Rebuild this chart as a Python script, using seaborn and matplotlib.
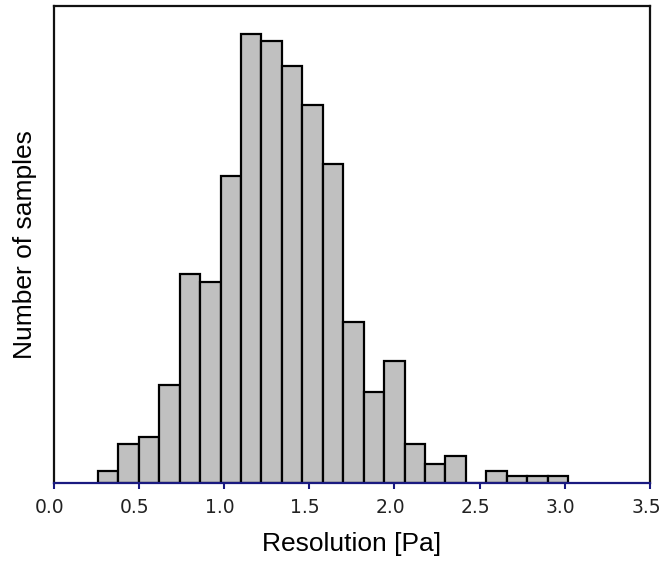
import numpy as np
import pandas as pd
import matplotlib
matplotlib.use("Agg")
import matplotlib.pyplot as plt
import matplotlib.transforms as mtransforms
import seaborn as sns

# ---- data ----
bin_centers = [0.32, 0.44, 0.56, 0.68, 0.80, 0.92, 1.04, 1.16, 1.28, 1.40,
               1.52, 1.64, 1.76, 1.88, 2.00, 2.12, 2.24, 2.36, 2.48, 2.60,
               2.72, 2.84, 2.96]
counts = [12, 38.7, 46, 97.7, 208.7, 201, 307, 449, 441.3, 416.7,
          377.7, 318.7, 161, 90.3, 122, 38.7, 18.7, 26.3, 0, 11.3,
          6.3, 6.3, 6.3]
bin_edges = [0.26, 0.38, 0.50, 0.62, 0.74, 0.86, 0.98, 1.10, 1.22, 1.34,
             1.46, 1.58, 1.70, 1.82, 1.94, 2.06, 2.18, 2.30, 2.42, 2.54,
             2.66, 2.78, 2.90, 3.02]
x_ticks = [0.0, 0.5, 1.0, 1.5, 2.0, 2.5, 3.0, 3.5]
x_tick_labels = ["0.0", "0.5", "1.0", "1.5", "2.0", "2.5", "3.0", "3.5"]

df = pd.DataFrame({"resolution": bin_centers, "count": counts})

sns.set_style("white")
plt.rcParams['font.family'] = ['Liberation Sans', 'DejaVu Sans']

fig = plt.figure(figsize=(6.63, 5.63), dpi=100)
ax = fig.add_axes([53.5 / 663, (563 - 482.5) / 563, (650 - 53.5) / 663, (482.5 - 6) / 563])

sns.histplot(data=df, x="resolution", weights="count", bins=bin_edges,
             color="#c0c0c0", edgecolor="black", linewidth=1.6, alpha=1.0, ax=ax)

ax.set_xlim(0, 3.5)
ax.set_ylim(0, 476.5)
ax.set_yticks([])
ax.set_xticks(x_ticks)
ax.set_xticklabels(x_tick_labels, family="DejaVu Sans", fontsize=13.5, color="#222222")
ax.tick_params(axis="x", direction="out", length=4, width=1.5, color="#1a1a80",
               pad=7, bottom=True)

# reference labels sit a few pixels left of their ticks
offset = mtransforms.ScaledTranslation(-4 / 100, 0, fig.dpi_scale_trans)
for lbl in ax.get_xticklabels():
    lbl.set_transform(lbl.get_transform() + offset)

for side in ["left", "right", "top"]:
    ax.spines[side].set_color("#111111")
    ax.spines[side].set_linewidth(1.6)
ax.spines["bottom"].set_color("#1a1a80")
ax.spines["bottom"].set_linewidth(1.6)

ax.set_xlabel("Resolution [Pa]", fontsize=19, labelpad=11, color="black")
ax.set_ylabel("Number of samples", fontsize=19, labelpad=12, color="black")

fig.savefig("out.png", dpi=100)
